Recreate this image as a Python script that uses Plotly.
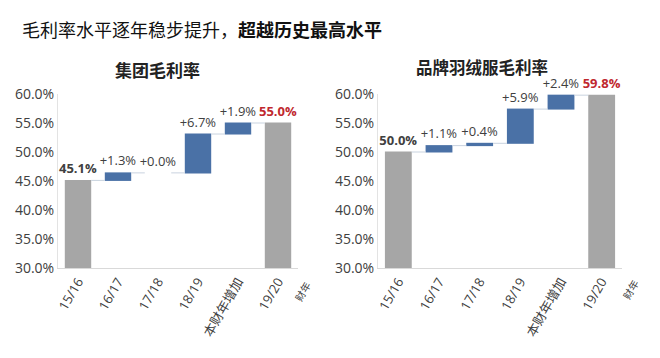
import plotly.graph_objects as go

categories = ["15/16", "16/17", "17/18", "18/19", "本财年增加", "19/20"]
measures = ["absolute", "relative", "relative", "relative", "relative", "total"]
group_values = [45.1, 1.3, 0.0, 6.7, 1.9, 55.0]
brand_values = [50.0, 1.1, 0.4, 5.9, 2.4, 59.8]

main_title = "毛利率水平逐年稳步提升，<b>超越历史最高水平</b>"
group_title = "集团毛利率"
brand_title = "品牌羽绒服毛利率"
axis_note = "财年"

BLUE = "#4a71a6"
GREY = "#a6a6a6"
TXT = "#404040"
W, H, OFF = 660, 358, 8  # page body margin offsets the figure by 8px


def px(x):
    return (x - OFF) / W


def py(y):
    return 1 - (y - OFF) / H


def labels(vals):
    out = []
    for i, v in enumerate(vals):
        if i == 0:
            out.append(f"<b>{v:.1f}%</b>")
        elif i == len(vals) - 1:
            out.append(f"<b><span style='color:#c0282e'>{v:.1f}%</span></b>")
        else:
            out.append(f"+{v:.1f}%")
    return out


fig = go.Figure()
for vals, xa, ya in [(group_values, "x", "y"), (brand_values, "x2", "y2")]:
    fig.add_trace(go.Waterfall(
        x=categories, y=vals, measure=measures,
        text=labels(vals), textposition="outside", constraintext="none",
        textfont=dict(family="Open Sans, Noto Sans CJK SC", size=13, color=TXT),
        increasing=dict(marker=dict(color=BLUE)),
        decreasing=dict(marker=dict(color=BLUE)),
        totals=dict(marker=dict(color=GREY)),
        connector=dict(line=dict(color="#c9d3df", width=1)),
        width=0.66, cliponaxis=False,
        xaxis=xa, yaxis=ya, showlegend=False,
    ))

xcommon = dict(tickangle=-60, showgrid=False, showline=True, linecolor="#d9d9d9",
               ticks="", automargin=False,
               tickfont=dict(family="Open Sans, Noto Sans CJK SC", size=13, color=TXT))
ycommon = dict(range=[30, 60], dtick=5, ticksuffix="%", tickformat=".1f", showgrid=False,
               showline=True, linecolor="#e3e3e3", ticks="", zeroline=False, automargin=False,
               tickfont=dict(family="Open Sans", size=14, color=TXT))

ydom = [py(268), py(94)]
ann = dict(xref="paper", yref="paper", showarrow=False, xanchor="center", yanchor="middle")
fig.update_layout(
    width=W, height=H, margin=dict(l=0, r=0, t=0, b=0),
    paper_bgcolor="white", plot_bgcolor="white",
    xaxis=dict(domain=[px(58), px(298)], anchor="y", **xcommon),
    yaxis=dict(domain=ydom, anchor="x", **ycommon),
    xaxis2=dict(domain=[px(378), px(622)], anchor="y2", **xcommon),
    yaxis2=dict(domain=ydom, anchor="x2", **ycommon),
    annotations=[
        dict(ann, text=main_title, x=px(20), y=py(29), xanchor="left",
             font=dict(family="Noto Sans CJK SC", size=18, color="#111111")),
        dict(ann, text=f"<b>{group_title}</b>", x=px(157), y=py(70),
             font=dict(family="Noto Sans CJK SC", size=17, color="#222222")),
        dict(ann, text=f"<b>{brand_title}</b>", x=px(482), y=py(67),
             font=dict(family="Noto Sans CJK SC", size=16.5, color="#222222")),
        dict(ann, text=axis_note, x=px(302), y=py(291), textangle=-60,
             font=dict(family="Noto Sans CJK SC", size=10, color=TXT)),
        dict(ann, text=axis_note, x=px(630), y=py(289), textangle=-60,
             font=dict(family="Noto Sans CJK SC", size=10, color=TXT)),
    ],
)

fig.write_html("out.html")
